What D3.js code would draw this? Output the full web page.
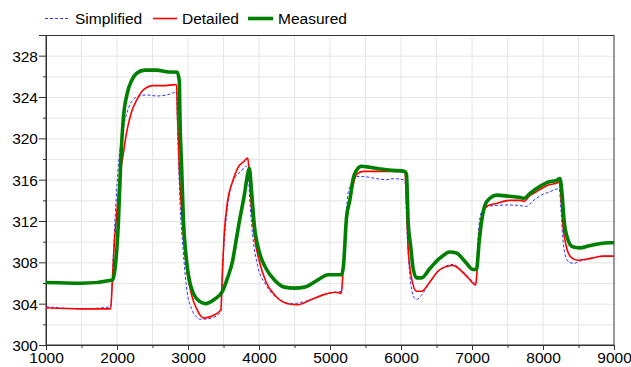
<!DOCTYPE html>
<html><head><meta charset="utf-8">
<script src="https://cdn.jsdelivr.net/npm/d3@7"></script>
<style>
body{margin:0;background:#fff;}
svg{display:block;font-family:"Liberation Sans",Arial,sans-serif;}
</style></head>
<body><svg id="c" width="631" height="367"></svg>
<script>
const seriesNames = ["Simplified","Detailed","Measured"];
const seriesColors = ["#3333ff","#ff0000","#008000"];
const xTicks = [1000,2000,3000,4000,5000,6000,7000,8000,9000];
const yTicks = [300,304,308,312,316,320,324,328];

const simplifiedT = [1000,1502,1911,1939,1986,2020,2080,2160,2277,2418,2559,2700,2793,2840,2850,2887,2934,2981,3052,3122,3169,3226,3368,3462,3500,3533,3580,3651,3745,3816,3840,3878,3911,3981,4099,4265,4453,4737,4925,5067,5161,5199,5256,5326,5373,5467,5655,5796,5890,6031,6054,6087,6124,6171,6218,6289,6406,6547,6735,6829,6946,7054,7087,7134,7204,7345,7524,7665,7759,7853,7947,8088,8205,8229,8252,8276,8313,8370,8440,8511,8652,8840,9000];
const simplifiedV = [303.7,303.5,303.7,307.4,313.9,317.4,320.6,322.9,324.0,324.2,324.1,324.2,324.4,324.5,321.9,313.9,309.0,305.5,303.5,302.7,302.5,302.5,302.7,303.2,309.0,311.9,314.5,316.1,316.8,317.3,317.1,313.2,310.6,307.7,305.8,304.5,304.0,304.4,304.9,305.1,305.2,309.0,314.8,315.8,316.3,316.3,316.1,316.0,316.1,316.0,315.9,310.6,306.8,304.8,304.4,304.8,306.1,307.3,307.8,307.4,306.6,306.0,310.6,312.9,313.4,313.5,313.55,313.5,313.4,313.9,314.4,314.8,315.1,315.1,313.2,310.6,308.7,308.0,307.9,308.1,308.3,308.6,308.6];

const detailedT = [1000,1502,1911,1930,1958,1995,2042,2080,2136,2207,2277,2371,2512,2653,2817,2840,2850,2878,2911,2944,2981,3052,3122,3169,3226,3368,3462,3486,3509,3557,3627,3698,3793,3840,3854,3887,3934,4005,4099,4241,4406,4548,4737,4925,5067,5161,5185,5232,5279,5326,5373,5467,5608,5749,5890,6054,6077,6101,6148,6218,6289,6406,6547,6735,6829,6946,7054,7073,7110,7157,7228,7345,7524,7665,7735,7806,7900,7994,8088,8205,8229,8252,8285,8323,8393,8487,8605,8746,8840,9000];
const detailedV = [303.6,303.5,303.5,305.5,309.4,312.6,316.5,318.1,320.6,322.6,323.7,324.7,325.1,325.1,325.2,325.15,322.6,317.1,312.9,310.0,307.4,304.8,303.5,302.9,302.6,302.9,303.4,307.4,310.6,313.9,315.8,317.1,317.8,318.1,317.4,313.9,310.6,308.1,306.1,304.7,304.0,303.9,304.4,304.9,305.1,305.0,307.4,311.9,313.8,315.5,316.5,316.8,316.8,316.8,316.8,316.8,313.9,309.4,306.5,305.2,305.2,306.1,307.3,307.7,307.3,306.5,305.8,307.4,311.3,312.9,313.5,313.7,314.0,314.0,313.9,314.4,314.8,315.2,315.5,315.7,315.8,314.5,311.3,309.7,308.5,308.2,308.3,308.5,308.6,308.6];

const measuredT = [1000,1500,1940,1972,2020,2052,2089,2146,2207,2277,2394,2559,2700,2850,2878,2887,2911,2934,2967,3005,3075,3169,3250,3368,3486,3557,3627,3675,3722,3793,3840,3863,3896,3934,4005,4099,4217,4359,4501,4642,4831,4973,5161,5190,5232,5279,5326,5373,5444,5561,5749,5890,6054,6077,6101,6134,6171,6218,6289,6406,6547,6688,6782,6899,7017,7063,7101,7134,7181,7251,7345,7524,7665,7735,7806,7900,7994,8088,8182,8238,8266,8299,8346,8417,8511,8652,8793,8934,9000];
const measuredV = [306.05,305.97,306.3,307.4,311.9,317.7,321.9,324.4,325.6,326.3,326.6,326.6,326.45,326.4,325.5,321.9,317.1,312.3,309.0,306.8,305.0,304.2,304.0,304.4,305.2,306.5,308.1,310.0,311.9,314.5,316.5,317.1,314.8,311.6,309.0,307.4,306.3,305.6,305.5,305.6,306.3,306.8,306.8,307.7,312.3,314.0,316.1,316.9,317.3,317.2,317.0,316.9,316.8,316.5,311.9,309.7,307.4,306.5,306.5,307.4,308.4,309.0,308.9,308.1,307.3,307.3,310.0,311.9,313.5,314.2,314.5,314.4,314.3,314.2,314.6,315.1,315.5,315.8,315.9,316.1,314.8,311.9,310.3,309.5,309.4,309.6,309.8,309.9,309.9];

const svg = d3.select("#c");
const L = 46, R = 614, T = 35, B = 345;
const x = d3.scaleLinear().domain([1000,9000]).range([L,R]);
const y = d3.scaleLinear().domain([300,330]).range([B,T]);

// grid
const g = svg.append("g");
g.selectAll("line.vg").data(d3.range(1500,9000,500)).enter().append("line")
 .attr("x1",d=>x(d)).attr("x2",d=>x(d)).attr("y1",T).attr("y2",B)
 .attr("stroke","#e6e6e6").attr("stroke-width",1);
g.selectAll("line.hg").data(d3.range(302,330,2)).enter().append("line")
 .attr("y1",d=>y(d)+0.5).attr("y2",d=>y(d)+0.5).attr("x1",L).attr("x2",R)
 .attr("stroke","#e6e6e6").attr("stroke-width",1);

// frame
svg.append("rect").attr("x",L).attr("y",T+0.5).attr("width",R-L).attr("height",B-T-0.5)
 .attr("fill","none").attr("stroke","#333").attr("stroke-width",1);

// axes
const fs = "15.5px";
const xAxis = svg.append("g").attr("transform",`translate(0,${B})`)
 .call(d3.axisBottom(x).tickValues(xTicks).tickSize(5).tickFormat(d3.format("d")));
const xMinor = svg.append("g").attr("transform",`translate(0,${B})`)
 .call(d3.axisBottom(x).tickValues(d3.range(1500,9000,1000)).tickSize(3).tickFormat(""));
const yAxis = svg.append("g").attr("transform",`translate(${L},0)`)
 .call(d3.axisLeft(y).tickValues(yTicks).tickSize(7).tickFormat(d3.format("d")));
const yMinor = svg.append("g").attr("transform",`translate(${L},0)`)
 .call(d3.axisLeft(y).tickValues(d3.range(302,330,4)).tickSize(3).tickFormat(""));
[xAxis,xMinor,yAxis,yMinor].forEach(a=>{
  a.select(".domain").attr("stroke","#333");
  a.selectAll(".tick line").attr("stroke","#333");
  a.selectAll("text").attr("fill","#000").style("font-size",fs).style("font-family","Liberation Sans, Arial, sans-serif");
});
xAxis.selectAll("text").attr("dy","0").attr("y",18);
yAxis.selectAll("text").attr("x",-8).attr("dy","0.35em");

// lines
const line = d3.line().curve(d3.curveMonotoneX).x(d=>x(d[0])).y(d=>y(d[1]));
const zipS = (t,v)=>t.map((d,i)=>[d,v[i]]);
const plot = svg.append("g");
plot.append("path").datum(zipS(simplifiedT,simplifiedV)).attr("d",line)
 .attr("fill","none").attr("stroke",seriesColors[0]).attr("stroke-width",1).attr("stroke-dasharray","3,2");
plot.append("path").datum(zipS(detailedT,detailedV)).attr("d",line)
 .attr("fill","none").attr("stroke",seriesColors[1]).attr("stroke-width",1.6).attr("stroke-linejoin","round");
plot.append("path").datum(zipS(measuredT,measuredV)).attr("d",line)
 .attr("fill","none").attr("stroke",seriesColors[2]).attr("stroke-width",3.6).attr("stroke-linejoin","round");

// legend
const leg = [{x0:45,x1:68,tx:75},{x0:153,x1:177,tx:182},{x0:248,x1:273,tx:278}];
const styles = [{w:1,dash:"3,2"},{w:1.6,dash:null},{w:3.6,dash:null}];
const lg = svg.append("g");
seriesNames.forEach((n,i)=>{
  lg.append("line").attr("x1",leg[i].x0).attr("x2",leg[i].x1).attr("y1",18.5).attr("y2",18.5)
   .attr("stroke",seriesColors[i]).attr("stroke-width",styles[i].w).attr("stroke-dasharray",styles[i].dash);
  lg.append("text").attr("x",leg[i].tx).attr("y",24).text(n).style("font-size","15.5px").attr("fill","#000");
});
</script></body></html>
